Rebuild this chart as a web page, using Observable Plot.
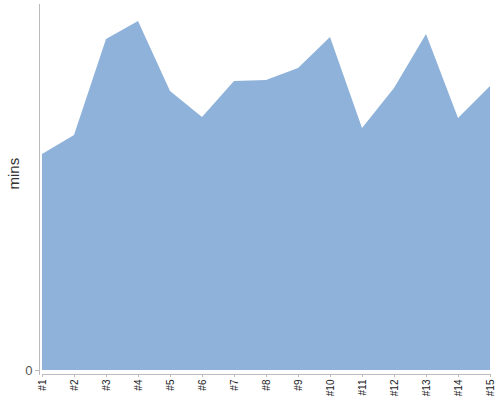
<!DOCTYPE html>
<html>
<head>
<meta charset="utf-8">
<script src="https://cdn.jsdelivr.net/npm/d3@7"></script>
<script src="https://cdn.jsdelivr.net/npm/@observablehq/plot@0.6"></script>
<style>
  html, body { margin: 0; padding: 0; background: #fff; }
</style>
</head>
<body>
<div id="chart"></div>
<script>
const categories = ["#1","#2","#3","#4","#5","#6","#7","#8","#9","#10","#11","#12","#13","#14","#15"];
const minutes = [216, 235, 331, 349, 279, 253, 289, 290, 302, 333, 242, 282, 336, 252, 284];
const yTicks = [0];
const yLabel = "mins";

const data = categories.map((c, i) => ({cat: c, val: minutes[i]}));

const chart = Plot.plot({
  width: 500,
  height: 400,
  marginLeft: 39,
  marginTop: 4,
  marginBottom: 26,
  marginRight: 10,
  style: {fontFamily: "'Liberation Sans', Arial, sans-serif", background: "#fff", color: "#333"},
  x: {type: "point", domain: categories, range: [42, 490], padding: 0},
  y: {domain: [0, 366], range: [370, 4]},
  marks: [
    Plot.areaY(data, {x: "cat", y: "val", fill: "#8fb2da", curve: "linear"}),
    Plot.frame({anchor: "left", stroke: "#bbb"}),
    Plot.ruleY([0], {x1: () => categories[0], x2: () => categories[categories.length - 1], dy: 4, stroke: "#bbb"}),
    Plot.axisX({tickSize: 3, tickPadding: 2, tickRotate: -90, fontSize: 10, stroke: "#bbb", fill: "#222", label: null}),
    Plot.axisY({ticks: yTicks, tickSize: 4, tickPadding: 3, fontSize: 13, stroke: "#bbb", fill: "#555", label: null}),
    Plot.text([yLabel], {frameAnchor: "left", rotate: -90, dx: -25, fontSize: 15, fill: "#333"})
  ]
});
document.getElementById("chart").appendChild(chart);
</script>
</body>
</html>
